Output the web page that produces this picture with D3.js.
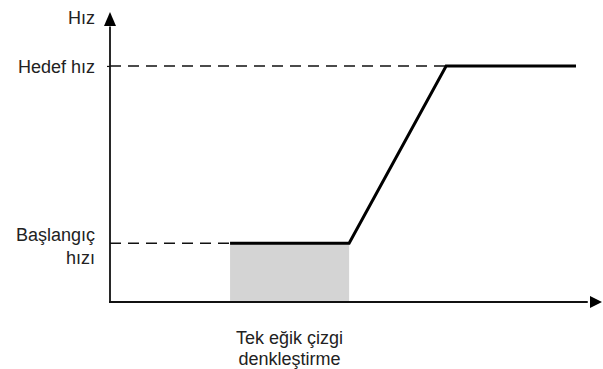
<!DOCTYPE html>
<html><head><meta charset="utf-8">
<script src="https://cdn.jsdelivr.net/npm/d3@7"></script>
<style>body{margin:0;background:#fff}</style>
</head><body>
<svg id="c" width="603" height="369"></svg>
<script>
// Data (time in arbitrary units, speed in percent)
const profileTime  = [2.45, 4.88, 6.86, 9.51];
const profileSpeed = [20.3, 20.3, 81.4, 81.4];
const startSpeed = 20.3, targetSpeed = 81.4;
const compStart = 2.45, compEnd = 4.88;
const yLabels = {axis: ["Hız"], target: ["Hedef hız"], start: ["Başlangıç", "hızı"]};
const xLabel = ["Tek eğik çizgi", "denkleştirme"];

const svg = d3.select("#c");
const x = d3.scaleLinear().domain([0, 10]).range([110, 600]);
const y = d3.scaleLinear().domain([0, 100]).range([302, 12]);
const font = "Liberation Sans, Arial, sans-serif";
const fs = 18;

// compensation area
svg.append("rect").attr("x", x(compStart)).attr("y", y(startSpeed))
  .attr("width", x(compEnd) - x(compStart)).attr("height", y(0) - y(startSpeed))
  .attr("fill", "#d4d4d4");

// dashed reference lines
svg.append("line").attr("x1", x(0)).attr("x2", x(compStart)).attr("y1", y(startSpeed)).attr("y2", y(startSpeed))
  .attr("stroke", "#111").attr("stroke-width", 1.5).attr("stroke-dasharray", "11,7");
svg.append("line").attr("x1", x(0)).attr("x2", x(profileTime[2])).attr("y1", y(targetSpeed)).attr("y2", y(targetSpeed))
  .attr("stroke", "#111").attr("stroke-width", 1.5).attr("stroke-dasharray", "11,7");

// axes
const ya = svg.append("g").attr("transform", `translate(${x(0)},0)`)
  .call(d3.axisLeft(y).tickValues([targetSpeed]).tickSize(3).tickFormat(""));
ya.select(".domain").remove();
ya.selectAll("line").attr("stroke", "#111").attr("stroke-width", 1.2);

svg.append("line").attr("x1", x(0)).attr("x2", x(0)).attr("y1", y(0) + 1).attr("y2", y(95))
  .attr("stroke", "#111").attr("stroke-width", 1.8);
svg.append("line").attr("x1", x(0) - 1).attr("x2", x(9.75)).attr("y1", y(0)).attr("y2", y(0))
  .attr("stroke", "#111").attr("stroke-width", 1.8);
// arrows
svg.append("path").attr("d", `M${x(0)},${y(100)} L${x(0)-6},${y(100)+14} L${x(0)+6},${y(100)+14} Z`).attr("fill", "#000");
svg.append("path").attr("d", `M${x(10)+2},${y(0)} L${x(10)-10},${y(0)-6} L${x(10)-10},${y(0)+6} Z`).attr("fill", "#000");

// profile line
const line = d3.line().x((d, i) => x(profileTime[i])).y((d, i) => y(profileSpeed[i]));
svg.append("path").datum(profileTime).attr("d", line)
  .attr("fill", "none").attr("stroke", "#000").attr("stroke-width", 3).attr("stroke-linejoin", "miter");

// labels
function lbl(lines, xx, yy, anchor, lh) {
  const t = svg.append("text").attr("x", xx).attr("y", yy).attr("text-anchor", anchor)
    .attr("font-family", font).attr("font-size", fs).attr("fill", "#222");
  lines.forEach((s, i) => t.append("tspan").attr("x", xx).attr("dy", i ? lh : 0).text(s));
}
lbl(yLabels.axis, 95, 24, "end", 0);
lbl(yLabels.target, 95, y(targetSpeed) + 7, "end", 0);
lbl(yLabels.start, 95, 241, "end", 23);
lbl(xLabel, (x(compStart) + x(compEnd)) / 2, 344, "middle", 21);
</script>
</body></html>
